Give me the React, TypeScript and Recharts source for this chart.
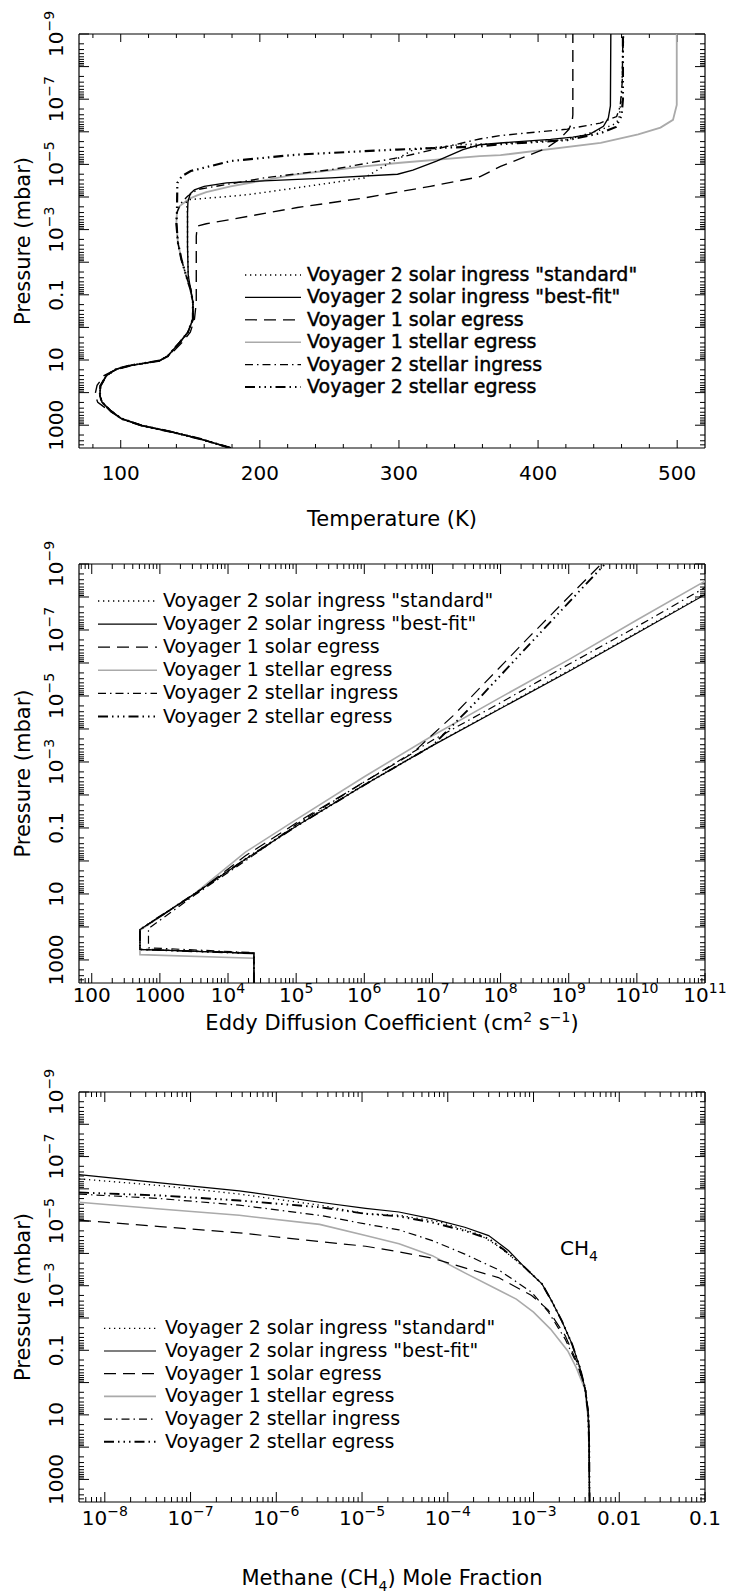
import React from 'react'
import { LineChart, Line, XAxis, YAxis, ReferenceLine } from 'recharts'

const FONT = '"DejaVu Sans", "Liberation Sans", sans-serif'
const W = 730

// ---------- shared pressure axis ----------
const pressureDomain: [number, number] = [1e-9, 5000]
const pressureTicks = [1e-9, 1e-7, 1e-5, 1e-3, 0.1, 10, 1000]
const pressureLabels = [['10', '−9'], ['10', '−7'], ['10', '−5'], ['10', '−3'], ['0.1', ''], ['10', ''], ['1000', '']]
const pressureMajor = [1e-9, 1e-8, 1e-7, 1e-6, 1e-5, 1e-4, 1e-3, 1e-2, 0.1, 1, 10, 100, 1000]

const seriesNames = [
  'Voyager 2 solar ingress "standard"',
  'Voyager 2 solar ingress "best-fit"',
  'Voyager 1 solar egress',
  'Voyager 1 stellar egress',
  'Voyager 2 stellar ingress',
  'Voyager 2 stellar egress',
]

const seriesStyles = [
  { stroke: '#000', width: 1.3, dash: '1.3 3.7' },
  { stroke: '#000', width: 1.2, dash: undefined },
  { stroke: '#000', width: 1.2, dash: '12 7' },
  { stroke: '#aaaaaa', width: 1.6, dash: undefined },
  { stroke: '#000', width: 1.2, dash: '8 4 1.5 4' },
  { stroke: '#000', width: 1.9, dash: '10 4 1.5 4 1.5 4 1.5 4' },
]
const drawOrder = [3, 2, 0, 4, 5, 1]

// ---------- panel 1 : temperature [T (K), P (mbar)] ----------
const tempTicks = [100, 200, 300, 400, 500]
const tempLabels = [['100', ''], ['200', ''], ['300', ''], ['400', ''], ['500', '']]
const tempMinor = [80, 120, 140, 160, 180, 220, 240, 260, 280, 320, 340, 360, 380, 420, 440, 460, 480]

const tempLower = [
  [179, 5000], [157, 2630], [137, 1620], [115, 1020], [100.5, 630], [92.5, 355], [86.5, 195],
  [85, 123], [85.4, 62], [89.7, 30], [96.9, 19], [106.5, 14.8], [128, 10.5], [134, 7.4],
  [142.4, 2.9], [148.3, 1.4], [151.9, 0.56], [151.9, 0.17], [150.2, 0.068],
]
const tempLeftBranch = [[147, 0.026], [143.6, 8.1e-3], [141.1, 2.5e-3], [140, 6.2e-4], [140.4, 3.0e-4]]

const tempStandard = [
  ...tempLower,
  [148.5, 0.025], [148, 3.2e-3], [148, 3.2e-4], [147.5, 2.0e-4], [146.7, 1.5e-4], [149.5, 1.2e-4],
  [179, 9.5e-5], [193, 8.3e-5], [227, 5.2e-5], [275, 2.6e-5], [289, 1.15e-5], [310.5, 3.5e-6],
  [346, 2.45e-6], [373, 2.3e-6], [421, 1.75e-6], [445, 8.7e-7], [454, 6.0e-7], [458, 4.3e-7],
  [460, 8.3e-8], [461.5, 1e-9],
]
const tempBestFit = [
  ...tempLower,
  [148.5, 0.025], [148, 3.2e-3], [148, 3.2e-4], [148.3, 1.4e-4], [150, 7.9e-5], [153, 6.0e-5],
  [160, 4.7e-5], [176, 3.7e-5], [203, 3.2e-5], [251, 2.6e-5], [299, 2.0e-5], [310, 1.5e-5],
  [327, 7.9e-6], [346, 3.5e-6], [358, 2.5e-6], [373, 2.2e-6], [409, 1.7e-6], [425, 1.45e-6],
  [437, 1.2e-6], [447, 6.8e-7], [450.5, 3.8e-7], [452, 1.6e-7], [452.3, 1e-9],
]
const tempV1Solar = [
  [179, 5000], [157, 2630], [137, 1620], [115, 1020], [100.5, 630], [91.5, 355], [83.5, 200],
  [81.5, 115], [83, 60], [88, 30], [97, 19], [108, 14.5], [128, 10.5], [135, 7.4], [144, 2.9],
  [150, 1.4], [153, 0.56], [154.3, 0.17], [154.3, 1.6e-3], [155, 7.8e-4], [161.5, 6.6e-4],
  [179, 4.9e-4], [227, 2.1e-4], [275, 1.07e-4], [322.5, 4.7e-5], [358, 2.4e-5], [373, 1.15e-5],
  [406, 3.2e-6], [416, 1.6e-6], [422, 8.5e-7], [424.5, 5.0e-7], [425, 3.0e-7], [425, 1e-9],
]
const tempV1Stellar = [
  ...tempLower, ...tempLeftBranch,
  [142.4, 1.9e-4], [149.5, 1.12e-4], [155, 8.9e-5], [161.5, 7.1e-5], [179, 4.7e-5], [227, 2.0e-5],
  [275, 1.15e-5], [301, 8.9e-6], [358, 5.6e-6], [373, 5.2e-6], [445, 2.2e-6], [472, 1.2e-6],
  [488, 7.4e-7], [497, 4.3e-7], [499.7, 1.5e-7], [499.7, 1e-9],
]
const tempV2StellarIn = [
  ...tempLower, ...tempLeftBranch,
  [143, 1.6e-4], [148, 9.5e-5], [155, 5.9e-5], [203, 2.6e-5], [251, 1.45e-5], [299, 6.3e-6],
  [358, 1.66e-6], [373, 1.3e-6], [421, 8.3e-7], [444.6, 5.4e-7], [456.5, 3.4e-7], [459, 1.66e-7],
  [460.5, 3e-8], [461, 1e-9],
]
const tempV2StellarEg = [
  ...tempLower, ...tempLeftBranch,
  [140.7, 3.7e-5], [144, 2.3e-5], [150.3, 1.6e-5], [179, 7.9e-6], [227, 5.0e-6], [299, 3.5e-6],
  [358, 2.8e-6], [373, 2.4e-6], [421, 1.8e-6], [445, 1.1e-6], [456, 7.1e-7], [460, 3.2e-7],
  [461, 1e-7], [461, 1e-9],
]

// ---------- panel 2 : eddy diffusion [K (cm2/s), P (mbar)] ----------
const eddyTicks = [100, 1e3, 1e4, 1e5, 1e6, 1e7, 1e8, 1e9, 1e10, 1e11]
const eddyLabels = [['100', ''], ['1000', ''], ['10', '4'], ['10', '5'], ['10', '6'], ['10', '7'], ['10', '8'], ['10', '9'], ['10', '10'], ['10', '11']]

const eddyStandard = [
  [2.4e4, 5000], [2.4e4, 630], [510, 480], [510, 120], [3200, 10], [1.8e4, 0.85], [1e5, 0.085],
  [1e6, 4.8e-3], [1e7, 3.1e-4], [1e8, 2.3e-5], [1e9, 1.7e-6], [1e10, 1.2e-7], [1e11, 8.0e-9],
]
const eddyBestFit = [
  [2.4e4, 5000], [2.4e4, 630], [510, 480], [510, 120], [3200, 10], [1.8e4, 0.89], [1e5, 0.089],
  [1e6, 5.0e-3], [1e7, 3.2e-4], [1e8, 2.4e-5], [1e9, 1.8e-6], [1e10, 1.26e-7], [1e11, 8.5e-9],
]
const eddyV1Solar = [
  [2.4e4, 5000], [2.4e4, 630], [510, 480], [510, 120], [3200, 10.5], [1.8e4, 0.7], [1e5, 0.071],
  [1e6, 4.0e-3], [5e6, 5.6e-4], [2e7, 4.0e-5], [2.5e8, 1.8e-7], [3.0e9, 1e-9],
]
const eddyV1Stellar = [
  [2.4e4, 5000], [2.4e4, 890], [510, 690], [510, 126], [3200, 10], [1.8e4, 0.54], [1e5, 0.056],
  [1e6, 2.8e-3], [1e7, 1.6e-4], [1e8, 1.1e-5], [1e9, 7.9e-7], [1e10, 5.0e-8], [1e11, 3.3e-9],
]
const eddyV2StellarIn = [
  [2.4e4, 5000], [2.4e4, 600], [680, 430], [680, 112], [3200, 11], [1.8e4, 1.0], [1e5, 0.079],
  [1e6, 4.0e-3], [1e7, 2.2e-4], [1e8, 1.6e-5], [1e9, 1.1e-6], [1e10, 7.9e-8], [1e11, 5.2e-9],
]
const eddyV2StellarEg = [
  [2.4e4, 5000], [2.4e4, 630], [510, 480], [510, 120], [3200, 10], [1.8e4, 0.89], [1e5, 0.089],
  [1e6, 5.0e-3], [1e7, 3.2e-4], [4e7, 1.8e-5], [3.2e8, 1.8e-7], [3.4e9, 1e-9],
]

// ---------- panel 3 : methane mole fraction [X, P (mbar)] ----------
const ch4Ticks = [1e-8, 1e-7, 1e-6, 1e-5, 1e-4, 1e-3, 0.01, 0.1]
const ch4Labels = [['10', '−8'], ['10', '−7'], ['10', '−6'], ['10', '−5'], ['10', '−4'], ['10', '−3'], ['0.01', ''], ['0.1', '']]

const ch4Standard = [
  [5e-9, 4.9e-7], [4.4e-8, 7.9e-7], [3.7e-7, 1.45e-6], [3.2e-6, 3.2e-6], [1.1e-5, 5.9e-6],
  [2.7e-5, 6.6e-6], [7.9e-5, 1.05e-5], [2.34e-4, 2.6e-5], [4.0e-4, 6.3e-5], [7.9e-4, 2.7e-4],
  [1.26e-3, 8.9e-4], [1.62e-3, 2.9e-3], [2.14e-3, 0.0123], [2.82e-3, 0.065], [3.47e-3, 0.34],
  [3.98e-3, 1.45], [4.31e-3, 7.6], [4.46e-3, 79], [4.5e-3, 5000],
]
const ch4BestFit = [
  [5e-9, 3.6e-7], [4.4e-8, 6.5e-7], [3.7e-7, 1.15e-6], [3.2e-6, 2.6e-6], [1.1e-5, 4.0e-6],
  [2.7e-5, 5.2e-6], [6.6e-5, 8.5e-6], [1.58e-4, 1.55e-5], [3.0e-4, 2.8e-5], [5.1e-4, 8.1e-5],
  [7.9e-4, 2.7e-4], [1.26e-3, 8.9e-4], [1.62e-3, 2.9e-3], [2.14e-3, 0.0123], [2.82e-3, 0.065],
  [3.47e-3, 0.34], [3.98e-3, 1.45], [4.31e-3, 7.6], [4.46e-3, 79], [4.5e-3, 5000],
]
const ch4V1Solar = [
  [5e-9, 9.3e-6], [4.4e-8, 1.48e-5], [3.7e-7, 2.3e-5], [3.2e-6, 4.3e-5], [1.1e-5, 6.0e-5],
  [2.7e-5, 8.9e-5], [6.6e-5, 1.41e-4], [1.58e-4, 2.8e-4], [3.9e-4, 5.6e-4], [9.5e-4, 2.0e-3],
  [1.48e-3, 5.6e-3], [2.34e-3, 0.035], [3.31e-3, 0.28], [4.07e-3, 1.8], [4.42e-3, 12.6], [4.5e-3, 5000],
]
const ch4V1Stellar = [
  [5e-9, 2.6e-6], [4.4e-8, 4.2e-6], [3.7e-7, 6.6e-6], [3.2e-6, 1.26e-5], [1.1e-5, 2.8e-5],
  [2.7e-5, 5.0e-5], [6.6e-5, 1.17e-4], [1.58e-4, 4.0e-4], [3.9e-4, 1.35e-3], [6.3e-4, 2.6e-3],
  [1e-3, 6.6e-3], [1.58e-3, 0.022], [2.51e-3, 0.105], [3.16e-3, 0.35], [3.98e-3, 1.6],
  [4.37e-3, 16], [4.52e-3, 5000],
]
const ch4V2StellarIn = [
  [5e-9, 1.45e-6], [4.4e-8, 2.0e-6], [3.7e-7, 3.2e-6], [3.2e-6, 6.6e-6], [1.1e-5, 1.23e-5],
  [2.7e-5, 1.86e-5], [6.6e-5, 4.0e-5], [1.58e-4, 1.05e-4], [3.9e-4, 3.2e-4], [9.5e-4, 1.58e-3],
  [1.48e-3, 6.3e-3], [2.34e-3, 0.045], [3.31e-3, 0.32], [4.07e-3, 1.8], [4.42e-3, 12.6], [4.5e-3, 5000],
]
const ch4V2StellarEg = [
  [5e-9, 1.3e-6], [4.4e-8, 1.6e-6], [3.7e-7, 2.3e-6], [3.2e-6, 3.7e-6], [1.1e-5, 5.9e-6],
  [2.7e-5, 7.1e-6], [6.6e-5, 1.1e-5], [1.58e-4, 2.0e-5], [3.0e-4, 3.5e-5], [4.47e-4, 7.6e-5],
  [7.9e-4, 2.7e-4], [1.26e-3, 8.9e-4], [1.62e-3, 2.9e-3], [2.14e-3, 0.0123], [2.82e-3, 0.065],
  [3.47e-3, 0.34], [3.98e-3, 1.45], [4.31e-3, 7.6], [4.46e-3, 79], [4.5e-3, 5000],
]

// minor ticks of a log axis (2..9 x 10^e) inside (lo, hi)
const logMinor = (lo: number, hi: number, e0: number, e1: number) => {
  const out: number[] = []
  for (let e = e0; e <= e1; e++) {
    for (let k = 2; k <= 9; k++) {
      const v = k * Math.pow(10, e)
      if (v > lo * 1.0001 && v < hi * 0.9999) out.push(v)
    }
  }
  return out
}

const toPts = (a: number[][]) => a.map(([x, p]) => ({ x, p }))

const findLabel = (ticks: number[], labels: string[][], v: number) => {
  const i = ticks.findIndex((t) => Math.abs(t - v) <= Math.abs(t) * 1e-6)
  return i < 0 ? null : labels[i]
}

const makeXTick = (ticks: number[], labels: string[][], dy: number) => (props: any) => {
  const { x, y, payload } = props
  const lab = findLabel(ticks, labels, payload.value)
  if (!lab) return <g />
  return (
    <text x={x} y={y + dy} textAnchor="middle" fontFamily={FONT} fontSize={20} fill="#000">
      {lab[0]}
      {lab[1] ? <tspan dy={-9} fontSize={14}>{lab[1]}</tspan> : null}
    </text>
  )
}

const renderYTick = (props: any) => {
  const { x, y, payload } = props
  const lab = findLabel(pressureTicks, pressureLabels, payload.value)
  if (!lab) return <g />
  const bx = x - 16
  return (
    <text x={bx} y={y} transform={`rotate(-90 ${bx} ${y})`} textAnchor="middle" fontFamily={FONT} fontSize={20} fill="#000">
      {lab[0]}
      {lab[1] ? <tspan dy={-9} fontSize={14}>{lab[1]}</tspan> : null}
    </text>
  )
}

// inward tick pair drawn at both ends of a reference line
const tickShape = (len: number, vertical: boolean) => (p: any) => {
  const { x1, x2, y1, y2 } = p
  if (vertical) {
    const top = Math.min(y1, y2)
    const bot = Math.max(y1, y2)
    return (
      <g>
        <line x1={x1} x2={x1} y1={bot} y2={bot - len} stroke="#000" strokeWidth={1} />
        <line x1={x1} x2={x1} y1={top} y2={top + len} stroke="#000" strokeWidth={1} />
      </g>
    )
  }
  const l = Math.min(x1, x2)
  const r = Math.max(x1, x2)
  return (
    <g>
      <line x1={l} x2={l + len} y1={y1} y2={y1} stroke="#000" strokeWidth={1} />
      <line x1={r} x2={r - len} y1={y1} y2={y1} stroke="#000" strokeWidth={1} />
    </g>
  )
}

interface PanelProps {
  top: number
  height: number
  marginTop: number
  axisHeight: number
  xDomain: [number, number]
  xLog: boolean
  xTicks: number[]
  xLabels: string[][]
  xMajor: number[]
  xMinor: number[]
  xMajorLen: number
  xMinorLen: number
  labelDy: number
  series: number[][][]
  widthScale: number
}

function Panel(props: PanelProps) {
  const { top, height, marginTop, axisHeight, xDomain, xLog, xTicks, xLabels, xMajor, xMinor, xMajorLen, xMinorLen, labelDy, series, widthScale } = props
  const yMinor = logMinor(pressureDomain[0], pressureDomain[1], -9, 3)
  return (
    <div style={{ position: 'absolute', left: 0, top }}>
      <LineChart width={W} height={height} margin={{ top: marginTop, right: 25, bottom: 0, left: 0 }}>
        <XAxis
          type="number"
          dataKey="x"
          domain={xDomain}
          scale={xLog ? 'log' : 'linear'}
          ticks={xTicks}
          interval={0}
          allowDataOverflow
          tickLine={false}
          axisLine={false}
          tickSize={0}
          tickMargin={0}
          height={axisHeight}
          tick={makeXTick(xTicks, xLabels, labelDy)}
        />
        <YAxis
          type="number"
          domain={pressureDomain}
          scale="log"
          reversed
          ticks={pressureTicks}
          interval={0}
          allowDataOverflow
          tickLine={false}
          axisLine={false}
          tickSize={0}
          tickMargin={0}
          width={79}
          tick={renderYTick}
        />
        {yMinor.map((v) => (
          <ReferenceLine key={`ym${v}`} y={v} stroke="#000" shape={tickShape(5, false)} />
        ))}
        {pressureMajor.map((v) => (
          <ReferenceLine key={`yM${v}`} y={v} stroke="#000" shape={tickShape(10, false)} />
        ))}
        {xMinor.map((v) => (
          <ReferenceLine key={`xm${v}`} x={v} stroke="#000" shape={tickShape(xMinorLen, true)} />
        ))}
        {xMajor.map((v) => (
          <ReferenceLine key={`xM${v}`} x={v} stroke="#000" shape={tickShape(xMajorLen, true)} />
        ))}
        <ReferenceLine x={xDomain[0]} stroke="#000" strokeWidth={1.2} ifOverflow="visible" />
        <ReferenceLine x={xDomain[1]} stroke="#000" strokeWidth={1.2} ifOverflow="visible" />
        <ReferenceLine y={pressureDomain[0]} stroke="#000" strokeWidth={1.2} ifOverflow="visible" />
        <ReferenceLine y={pressureDomain[1]} stroke="#000" strokeWidth={1.2} ifOverflow="visible" />
        {drawOrder.map((i) => {
          const st = seriesStyles[i]
          return (
            <Line
              key={seriesNames[i]}
              name={seriesNames[i]}
              data={toPts(series[i])}
              dataKey="p"
              type="linear"
              dot={false}
              activeDot={false}
              isAnimationActive={false}
              stroke={st.stroke}
              strokeWidth={st.width * widthScale}
              strokeDasharray={st.dash}
            />
          )
        })}
      </LineChart>
    </div>
  )
}

function LegendBlock({ x1, x2, tx, y0, step, heavy }: { x1: number; x2: number; tx: number; y0: number; step: number; heavy: boolean }) {
  return (
    <g>
      {seriesNames.map((n, i) => {
        const st = seriesStyles[i]
        const y = y0 + i * step
        return (
          <g key={n}>
            <line x1={x1} x2={x2} y1={y} y2={y} stroke={st.stroke} strokeWidth={st.width} strokeDasharray={st.dash} />
            <text
              x={tx}
              y={y + 6}
              fontFamily={FONT}
              fontSize={19}
              fill="#000"
              stroke={heavy ? '#000' : 'none'}
              strokeWidth={heavy ? 0.45 : 0}
            >
              {n}
            </text>
          </g>
        )
      })}
    </g>
  )
}

function YTitle({ cy }: { cy: number }) {
  return (
    <text x={30} y={cy} transform={`rotate(-90 30 ${cy})`} textAnchor="middle" fontFamily={FONT} fontSize={21} fill="#000">
      Pressure (mbar)
    </text>
  )
}

export default function App() {
  return (
    <div style={{ position: 'absolute', left: 0, top: 0, width: W, height: 1594, background: '#fff', overflow: 'hidden' }}>
      <Panel
        top={0}
        height={530}
        marginTop={34}
        axisHeight={82}
        xDomain={[70, 520]}
        xLog={false}
        xTicks={tempTicks}
        xLabels={tempLabels}
        xMajor={tempTicks}
        xMinor={tempMinor}
        xMajorLen={8}
        xMinorLen={4}
        labelDy={32}
        series={[tempStandard, tempBestFit, tempV1Solar, tempV1Stellar, tempV2StellarIn, tempV2StellarEg]}
        widthScale={1.15}
      />
      <Panel
        top={530}
        height={530}
        marginTop={34}
        axisHeight={77}
        xDomain={[65, 1e11]}
        xLog
        xTicks={eddyTicks}
        xLabels={eddyLabels}
        xMajor={eddyTicks}
        xMinor={logMinor(65, 1e11, 1, 10)}
        xMajorLen={10}
        xMinorLen={5}
        labelDy={18.7}
        series={[eddyStandard, eddyBestFit, eddyV1Solar, eddyV1Stellar, eddyV2StellarIn, eddyV2StellarEg]}
        widthScale={1}
      />
      <Panel
        top={1060}
        height={534}
        marginTop={32}
        axisHeight={92}
        xDomain={[5e-9, 0.1]}
        xLog
        xTicks={ch4Ticks}
        xLabels={ch4Labels}
        xMajor={ch4Ticks}
        xMinor={logMinor(5e-9, 0.1, -9, -2)}
        xMajorLen={10}
        xMinorLen={5}
        labelDy={23}
        series={[ch4Standard, ch4BestFit, ch4V1Solar, ch4V1Stellar, ch4V2StellarIn, ch4V2StellarEg]}
        widthScale={1}
      />
      <svg width={W} height={1594} style={{ position: 'absolute', left: 0, top: 0, pointerEvents: 'none' }}>
        <YTitle cy={241} />
        <YTitle cy={773.5} />
        <YTitle cy={1297} />
        <text x={392} y={526} textAnchor="middle" fontFamily={FONT} fontSize={21} fill="#000">
          Temperature (K)
        </text>
        <text x={392} y={1030} textAnchor="middle" fontFamily={FONT} fontSize={21} fill="#000">
          Eddy Diffusion Coefficient (cm<tspan dy={-8} fontSize={14}>2</tspan>
          <tspan dy={8}> s</tspan>
          <tspan dy={-8} fontSize={14}>−1</tspan>
          <tspan dy={8}>)</tspan>
        </text>
        <text x={392} y={1585} textAnchor="middle" fontFamily={FONT} fontSize={21} fill="#000">
          Methane (CH<tspan dy={6} fontSize={14}>4</tspan>
          <tspan dy={-6}>) Mole Fraction</tspan>
        </text>
        <text x={560} y={1255} fontFamily={FONT} fontSize={20} fill="#000">
          CH<tspan dy={6} fontSize={14}>4</tspan>
        </text>
        <LegendBlock x1={245} x2={301} tx={307} y0={275} step={22.4} heavy />
        <LegendBlock x1={98} x2={157} tx={163} y0={601} step={23.1} heavy={false} />
        <LegendBlock x1={104} x2={156} tx={165} y0={1328.3} step={22.7} heavy={false} />
      </svg>
    </div>
  )
}
